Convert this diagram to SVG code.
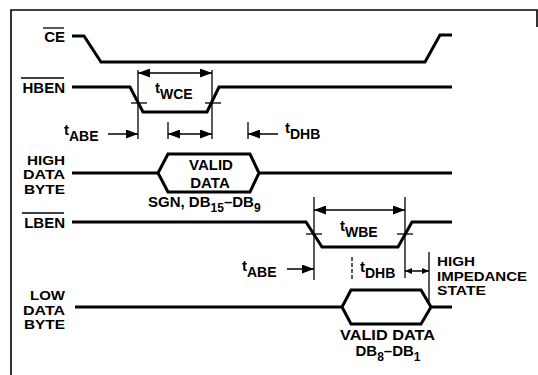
<svg xmlns="http://www.w3.org/2000/svg" width="538" height="375" viewBox="0 0 538 375">
<defs>
<style>
.lbl{font-family:"Liberation Sans",Arial,sans-serif;font-weight:bold;font-size:15px;fill:#000}
.stk{font-family:"Liberation Sans",Arial,sans-serif;font-weight:bold;font-size:13px;fill:#000}
.sig{fill:none;stroke:#000;stroke-width:3;stroke-linejoin:miter}
.thin{fill:none;stroke:#000;stroke-width:1.3}
.arr{fill:none;stroke:#000;stroke-width:1.5}
.frame{fill:none;stroke:#000;stroke-width:1.6}
</style>
<marker id="ah" markerUnits="userSpaceOnUse" markerWidth="13" markerHeight="9" refX="12" refY="4.5" orient="auto-start-reverse">
<path d="M0,0 L12,4.5 L0,9 z" fill="#000"/>
</marker>
<marker id="ahs" markerUnits="userSpaceOnUse" markerWidth="8" markerHeight="6" refX="7" refY="3" orient="auto-start-reverse">
<path d="M0,0 L7,3 L0,6 z" fill="#000"/>
</marker>
</defs>
<rect width="538" height="375" fill="#fff"/>
<path class="frame" d="M11,375 V10 H537 V27"/>

<g id="CE">
<text class="lbl" x="65" y="42" text-anchor="end">CE</text>
<line class="thin" x1="43" y1="28" x2="64" y2="28"/>
<polyline class="sig" points="72,36 84,36 101,62 425,62 440,35 452,35"/>
</g>

<g id="HBEN">
<text class="lbl" x="65" y="93" text-anchor="end">HBEN</text>
<line class="thin" x1="21" y1="78" x2="64" y2="78"/>
<polyline class="sig" points="72,87 130,87 143,112 207,112 219,87 452,87"/>
<line class="thin" x1="131" y1="103" x2="147" y2="103"/>
<line class="thin" x1="205" y1="103" x2="221" y2="103"/>
</g>

<g id="HIGH_DATA_BYTE">
<text class="stk" x="27" y="164.5" textLength="38" lengthAdjust="spacingAndGlyphs">HIGH</text>
<text class="stk" x="23" y="179.2" textLength="42" lengthAdjust="spacingAndGlyphs">DATA</text>
<text class="stk" x="24" y="194" textLength="41" lengthAdjust="spacingAndGlyphs">BYTE</text>
<polyline class="sig" points="72,173 158,173"/>
<polygon class="sig" points="158,173 168,154 250,154 259,173 250,192 168,192"/>
<polyline class="sig" points="259,173 452,173"/>
<text class="lbl" x="211" y="170" text-anchor="middle" font-size="15.5">VALID</text>
<text class="lbl" x="210" y="188" text-anchor="middle" font-size="15.5">DATA</text>
<text class="lbl" x="148" y="207" font-size="14">SGN, DB<tspan font-size="12" dy="5">15</tspan><tspan dy="-5">–DB</tspan><tspan font-size="12" dy="5">9</tspan></text>
</g>

<g id="LBEN">
<text class="lbl" x="65" y="228" text-anchor="end">LBEN</text>
<line class="thin" x1="22" y1="213" x2="64" y2="213"/>
<polyline class="sig" points="72,222 306,222 322,247 398,247 412,222 452,222"/>
<line class="thin" x1="306" y1="234" x2="322" y2="234"/>
<line class="thin" x1="397" y1="234" x2="413" y2="234"/>
</g>

<g id="LOW_DATA_BYTE">
<text class="stk" x="30" y="300" textLength="35" lengthAdjust="spacingAndGlyphs">LOW</text>
<text class="stk" x="23" y="314.7" textLength="42" lengthAdjust="spacingAndGlyphs">DATA</text>
<text class="stk" x="24" y="329.4" textLength="41" lengthAdjust="spacingAndGlyphs">BYTE</text>
<polyline class="sig" points="75,307 342,307"/>
<polygon class="sig" points="342,307 351,290 421,290 431,307 421,324 351,324"/>
<polyline class="sig" points="431,307 452,307"/>
<text class="lbl" x="340" y="340" font-size="14" textLength="95" lengthAdjust="spacingAndGlyphs">VALID DATA</text>
<text class="lbl" x="388" y="356" text-anchor="middle" font-size="14">DB<tspan font-size="12" dy="5">8</tspan><tspan dy="-5">–DB</tspan><tspan font-size="12" dy="5">1</tspan></text>
</g>

<g id="high_impedance">
<text class="stk" x="437" y="266" textLength="38" lengthAdjust="spacingAndGlyphs">HIGH</text>
<text class="stk" x="437" y="280.7" textLength="90" lengthAdjust="spacingAndGlyphs">IMPEDANCE</text>
<text class="stk" x="437" y="295.4" textLength="49" lengthAdjust="spacingAndGlyphs">STATE</text>
</g>

<g id="connectors">
<line class="thin" x1="138" y1="70" x2="138" y2="139"/>
<line class="thin" x1="212" y1="70" x2="212" y2="139"/>
<line class="arr" x1="138" y1="73" x2="212" y2="73" marker-start="url(#ah)" marker-end="url(#ah)"/>
<text class="lbl" x="155" y="93">t<tspan font-size="14" dy="6">WCE</tspan></text>
<text class="lbl" x="64" y="135">t<tspan font-size="14" dy="6">ABE</tspan></text>
<line class="arr" x1="108" y1="134" x2="138" y2="134" marker-end="url(#ah)"/>
<line class="thin" x1="168" y1="122" x2="168" y2="139"/>
<line class="arr" x1="168" y1="134" x2="212" y2="134" marker-start="url(#ah)" marker-end="url(#ah)"/>
<line class="thin" x1="248" y1="122" x2="248" y2="139"/>
<line class="arr" x1="278" y1="134" x2="248" y2="134" marker-end="url(#ah)"/>
<text class="lbl" x="285" y="133">t<tspan font-size="14" dy="6">DHB</tspan></text>
<line class="thin" x1="314" y1="197" x2="314" y2="280"/>
<line class="thin" x1="405" y1="197" x2="405" y2="278"/>
<line class="arr" x1="314" y1="210" x2="405" y2="210" marker-start="url(#ah)" marker-end="url(#ah)"/>
<text class="lbl" x="340" y="231">t<tspan font-size="14" dy="6">WBE</tspan></text>
<text class="lbl" x="242" y="271">t<tspan font-size="14" dy="6">ABE</tspan></text>
<line class="arr" x1="287" y1="269" x2="314" y2="269" marker-end="url(#ah)"/>
<line class="thin" x1="352" y1="257" x2="352" y2="280" stroke-dasharray="4 2"/>
<text class="lbl" x="360" y="272">t<tspan font-size="14" dy="6">DHB</tspan></text>
<line class="thin" x1="429" y1="252" x2="429" y2="302"/>
<line class="arr" x1="405" y1="271" x2="429" y2="271" marker-start="url(#ahs)" marker-end="url(#ahs)"/>
</g>
</svg>
